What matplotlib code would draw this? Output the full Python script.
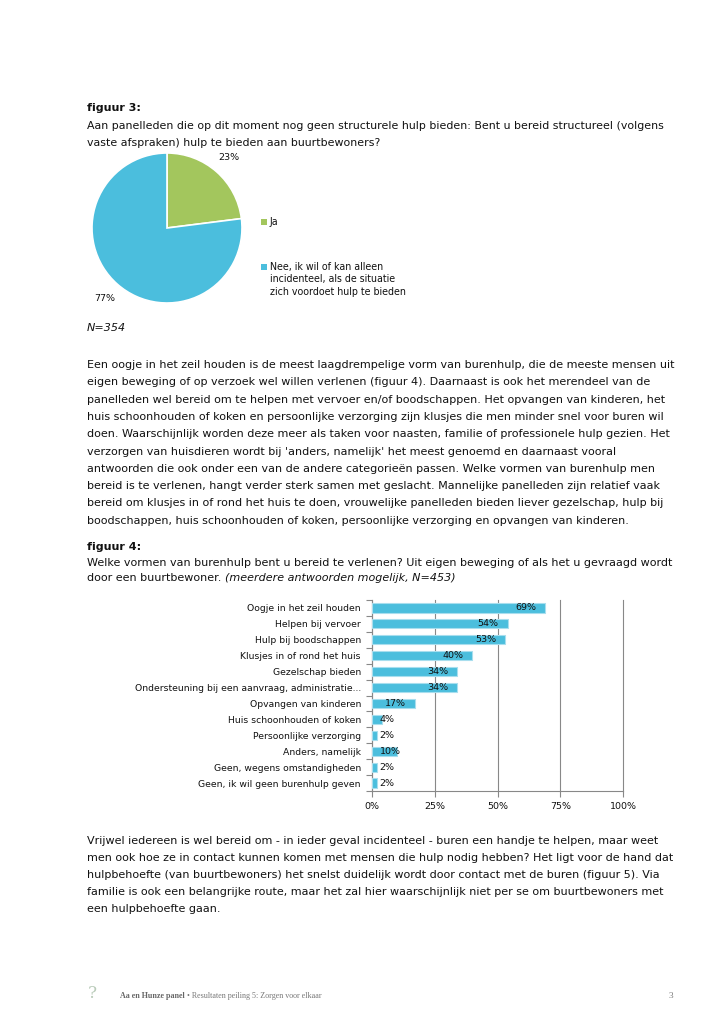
import matplotlib.pyplot as plt
from matplotlib.patches import Rectangle

W, H = 718, 1026

# figuur 3 data
pie_labels = ['Ja', 'Nee, ik wil of kan alleen\nincidenteel, als de situatie\nzich voordoet hulp te bieden']
pie_values = [23, 77]
pie_colors = ['#A3C65D', '#4BBEDD']

# figuur 4 data
categories = ['Oogje in het zeil houden', 'Helpen bij vervoer', 'Hulp bij boodschappen',
              'Klusjes in of rond het huis', 'Gezelschap bieden',
              'Ondersteuning bij een aanvraag, administratie...', 'Opvangen van kinderen',
              'Huis schoonhouden of koken', 'Persoonlijke verzorging', 'Anders, namelijk',
              'Geen, wegens omstandigheden', 'Geen, ik wil geen burenhulp geven']
values = [69, 54, 53, 40, 34, 34, 17, 4, 2, 10, 2, 2]
xticks = [0, 25, 50, 75, 100]

para1 = [
    "Een oogje in het zeil houden is de meest laagdrempelige vorm van burenhulp, die de meeste mensen uit",
    "eigen beweging of op verzoek wel willen verlenen (figuur 4). Daarnaast is ook het merendeel van de",
    "panelleden wel bereid om te helpen met vervoer en/of boodschappen. Het opvangen van kinderen, het",
    "huis schoonhouden of koken en persoonlijke verzorging zijn klusjes die men minder snel voor buren wil",
    "doen. Waarschijnlijk worden deze meer als taken voor naasten, familie of professionele hulp gezien. Het",
    "verzorgen van huisdieren wordt bij 'anders, namelijk' het meest genoemd en daarnaast vooral",
    "antwoorden die ook onder een van de andere categorieën passen. Welke vormen van burenhulp men",
    "bereid is te verlenen, hangt verder sterk samen met geslacht. Mannelijke panelleden zijn relatief vaak",
    "bereid om klusjes in of rond het huis te doen, vrouwelijke panelleden bieden liever gezelschap, hulp bij",
    "boodschappen, huis schoonhouden of koken, persoonlijke verzorging en opvangen van kinderen.",
]
para2 = [
    "Vrijwel iedereen is wel bereid om - in ieder geval incidenteel - buren een handje te helpen, maar weet",
    "men ook hoe ze in contact kunnen komen met mensen die hulp nodig hebben? Het ligt voor de hand dat",
    "hulpbehoefte (van buurtbewoners) het snelst duidelijk wordt door contact met de buren (figuur 5). Via",
    "familie is ook een belangrijke route, maar het zal hier waarschijnlijk niet per se om buurtbewoners met",
    "een hulpbehoefte gaan.",
]

plt.rcParams['font.family'] = 'DejaVu Sans'
FS = 8.0
SMALL = 6.8
TXT = '#111111'

fig = plt.figure(figsize=(W / 100, H / 100), dpi=100)


def px(x, y):
    return x / W, 1 - y / H


def line(x, y, s, **kw):
    kw.setdefault('fontsize', FS)
    kw.setdefault('color', TXT)
    return fig.text(*px(x, y), s, va='center', ha=kw.pop('ha', 'left'), **kw)


# figuur 3 heading
line(87, 108, 'figuur 3:', fontweight='bold')
line(87, 126, 'Aan panelleden die op dit moment nog geen structurele hulp bieden: Bent u bereid structureel (volgens',
     fontsize=7.9)
line(87, 143, 'vaste afspraken) hulp te bieden aan buurtbewoners?', fontsize=7.9)

# pie
ax1 = fig.add_axes([92 / W, 1 - 303 / H, 150 / W, 150 / H])
ax1.pie(pie_values, colors=pie_colors, startangle=90, counterclock=False,
        autopct='%d%%', pctdistance=1.25,
        wedgeprops=dict(edgecolor='white', linewidth=1.2),
        textprops=dict(fontsize=SMALL, color=TXT))
ax1.set_xlim(-1, 1)
ax1.set_ylim(-1, 1)
ax1.set_aspect('equal')

# legend
leg_y = [222, 267]
for lab, col, y in zip(pie_labels, pie_colors, leg_y):
    fig.patches.append(Rectangle(px(261, y + 3), 6 / W, 6 / H, transform=fig.transFigure,
                                 facecolor=col, edgecolor='none'))
    fig.text(*px(270, y - 5), lab, va='top', ha='left', fontsize=SMALL + 0.05, color=TXT,
             linespacing=1.3)

line(87, 328, 'N=354', fontstyle='italic')

for i, s in enumerate(para1):
    line(87, 365 + i * 17.3, s, fontsize=8.05)

# figuur 4 heading
line(87, 547, 'figuur 4:', fontweight='bold')
line(87, 563, 'Welke vormen van burenhulp bent u bereid te verlenen? Uit eigen beweging of als het u gevraagd wordt')
t = line(87, 578, 'door een buurtbewoner. ')
fig.canvas.draw()
bb = t.get_window_extent()
fig.text(bb.x1 / W, 1 - 578 / H, '(meerdere antwoorden mogelijk, N=453)', va='center', ha='left',
         fontsize=FS, color=TXT, fontstyle='italic')

# bar chart
ax2 = fig.add_axes([372 / W, 1 - 791 / H, 251 / W, 191 / H])
pos = list(range(len(categories)))
ax2.barh(pos, values, height=0.58, color='#4BBEDD', edgecolor='#A8DEEE', linewidth=0.8, zorder=3)
ax2.set_ylim(len(categories) - 0.5, -0.5)
ax2.set_xlim(0, 100)
ax2.set_xticks(xticks)
ax2.set_xticklabels([f'{v}%' for v in xticks], fontsize=SMALL, color=TXT)
ax2.set_yticks(pos)
ax2.set_yticklabels(categories, fontsize=6.7, color=TXT)
ax2.tick_params(axis='y', length=0, pad=8)
ax2.set_yticks([p - 0.5 for p in pos] + [len(pos) - 0.5], minor=True)
ax2.tick_params(axis='y', which='minor', length=4, color='#888888', width=0.8)
ax2.tick_params(axis='x', length=4, color='#888888', width=0.8, pad=4)
ax2.grid(axis='x', color='#888888', linewidth=0.8, zorder=0)
for gl in ax2.get_xgridlines():
    gl.set_clip_on(False)
for side in ['top', 'right']:
    ax2.spines[side].set_visible(False)
for side in ['left', 'bottom']:
    ax2.spines[side].set_color('#888888')
    ax2.spines[side].set_linewidth(0.8)
for p, v in zip(pos, values):
    if v >= 15:
        ax2.text(v - 3.6, p, f'{v}%', ha='right', va='center', fontsize=SMALL, color=TXT, zorder=4)
    else:
        ax2.text(3, p, f'{v}%', ha='left', va='center', fontsize=SMALL, color=TXT, zorder=4)

for i, s in enumerate(para2):
    line(87, 841 + i * 16.9, s)

# footer
fig.text(*px(92, 993), '?', va='center', ha='center', fontsize=12, color='#B9CBB9', family='DejaVu Serif')
t = fig.text(*px(120, 996), 'Aa en Hunze panel', va='center', ha='left', fontsize=5.8, color='#666666',
             family='Liberation Serif', fontweight='bold')
fig.canvas.draw()
bb = t.get_window_extent()
fig.text(bb.x1 / W, 1 - 996 / H, ' \u2022 Resultaten peiling 5: Zorgen voor elkaar', va='center', ha='left',
         fontsize=5.8, color='#777777', family='Liberation Serif')
fig.text(*px(671, 996), '3', va='center', ha='center', fontsize=6.6, color='#777777', family='Liberation Serif')

fig.savefig('out.png', dpi=100, facecolor='white')
